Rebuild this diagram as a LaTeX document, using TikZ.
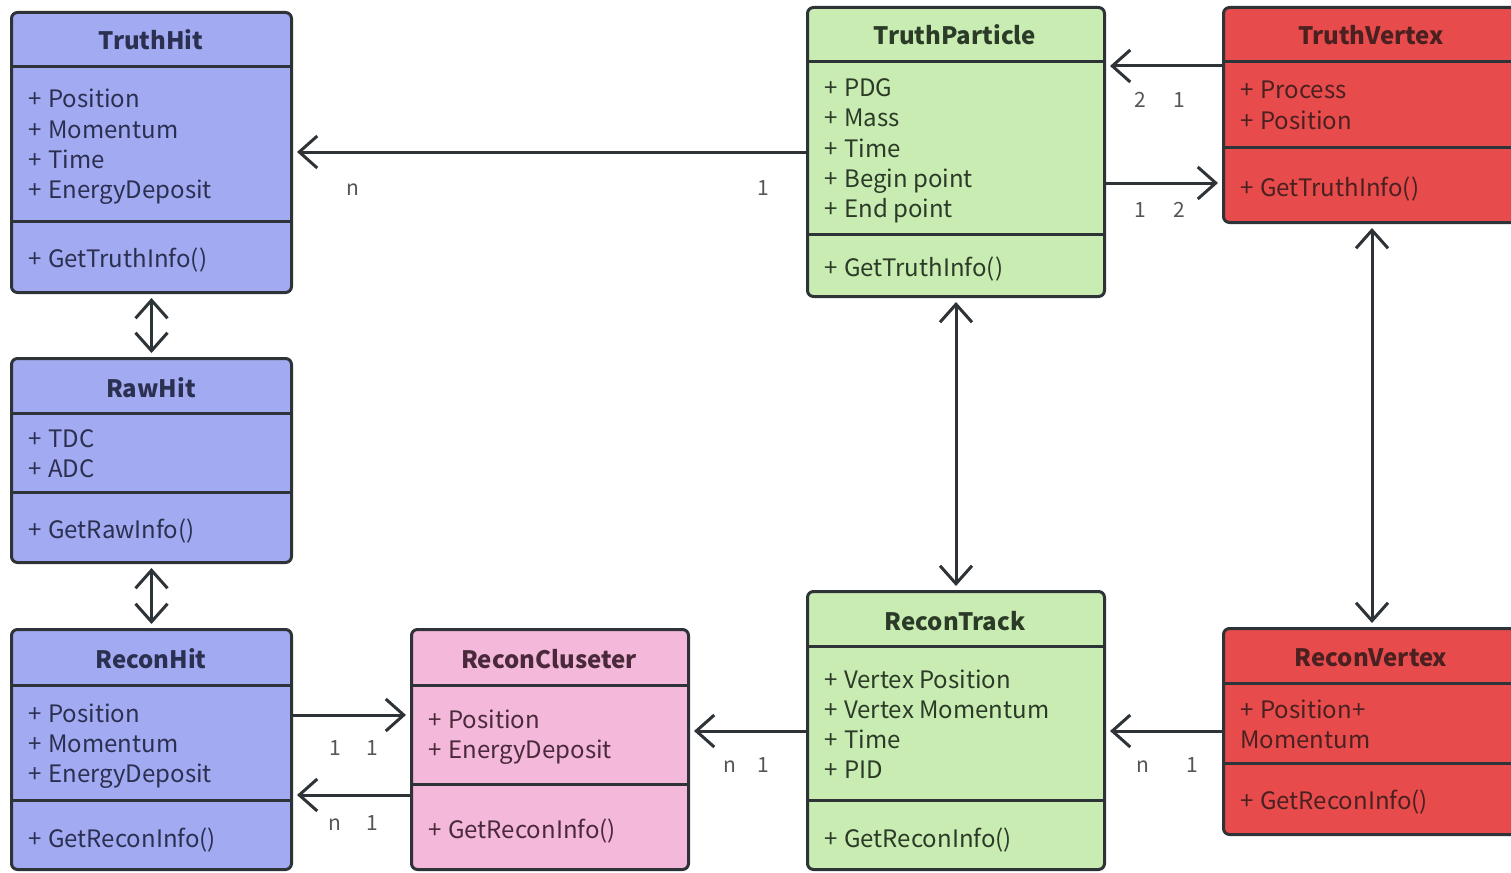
\documentclass[tikz,border=0pt]{standalone}
\usepackage{fontspec}
\setmainfont{Noto Sans CJK SC}
\usetikzlibrary{arrows.meta,calc}
\definecolor{bordc}{HTML}{2E3338}
\definecolor{bluef}{HTML}{A2AAF2}
\definecolor{greenf}{HTML}{C8ECB2}
\definecolor{redf}{HTML}{E84B4B}
\definecolor{pinkf}{HTML}{F4B8DA}
\definecolor{bluet}{HTML}{2C3050}
\definecolor{greent}{HTML}{2C3A28}
\definecolor{redt}{HTML}{4A2020}
\definecolor{pinkt}{HTML}{4A2A3A}
\definecolor{multc}{HTML}{555555}
\newcommand\pl{+\hspace{0.28em}}
\tikzset{
  cls/.style={draw=bordc, line width=3pt, rounded corners=6pt, anchor=north west, inner sep=0pt},
  divl/.style={draw=bordc, line width=3pt},
  ttl/.style={font=\fontsize{24}{28}\selectfont\bfseries, anchor=base, inner sep=0pt},
  att/.style={font=\fontsize{24}{30}\selectfont, anchor=base west, inner sep=0pt},
  mult/.style={font=\fontsize{21}{24}\selectfont, text=multc, anchor=base, inner sep=0pt},
  conn/.style={draw=bordc, line width=3pt, -{Straight Barb[length=18pt,width=32pt]}, shorten >=4pt},
  bconn/.style={draw=bordc, line width=3pt, {Straight Barb[length=18pt,width=32pt]}-{Straight Barb[length=18pt,width=32pt]}, shorten >=4pt, shorten <=4pt},
}
\newcommand\cbox[8]{%
  \node[cls, fill=#6, minimum width=#4pt, minimum height=#5pt] (#1) at (#2,#3) {};
  \draw[divl] (#1.west |- 0,#7) -- (#1.east |- 0,#7);
  \draw[divl] (#1.west |- 0,#8) -- (#1.east |- 0,#8);
}
\newcommand\lns[5]{%
  \foreach \s [count=\i] in {#5} {\node[att, text=#4] (#1-\i) at ({#2},{#3+30*(\i-1)}) {\s};}
}
\begin{document}
\begin{tikzpicture}[x=1pt,y=-1pt]
\useasboundingbox (0,0) rectangle (1511,872);
\fill[white] (0,0) rectangle (1511,872);
\clip (0,0) rectangle (1511,872);

% TruthHit
\cbox{th}{10}{11}{280}{280}{bluef}{67}{221}
\node[ttl, text=bluet] (th-t) at (151,50) {TruthHit};
\lns{tha}{28}{108}{bluet}{\pl Position,\pl Momentum,\pl Time,\pl EnergyDeposit}
\lns{thm}{28}{267}{bluet}{\pl GetTruthInfo()}

% RawHit
\cbox{rh}{10}{357}{280}{204}{bluef}{413}{492}
\node[ttl, text=bluet] (rh-t) at (151,397) {RawHit};
\lns{rha}{28}{447}{bluet}{\pl TDC,\pl ADC}
\lns{rhm}{28}{538}{bluet}{\pl GetRawInfo()}

% ReconHit
\cbox{rch}{10}{628}{280}{240}{bluef}{685}{800}
\node[ttl, text=bluet] (rch-t) at (151,668) {ReconHit};
\lns{rcha}{28}{722}{bluet}{\pl Position,\pl Momentum,\pl EnergyDeposit}
\lns{rchm}{28}{847}{bluet}{\pl GetReconInfo()}

% ReconCluseter
\cbox{rc}{410}{628}{277}{240}{pinkf}{685}{784}
\node[ttl, text=pinkt] (rc-t) at (549,668) {ReconCluseter};
\lns{rca}{428}{728}{pinkt}{\pl Position,\pl EnergyDeposit}
\lns{rcm}{428}{838}{pinkt}{\pl GetReconInfo()}

% ReconTrack
\cbox{rt}{806}{590}{297}{278}{greenf}{646}{800}
\node[ttl, text=greent] (rt-t) at (955,630) {ReconTrack};
\lns{rta}{824}{688}{greent}{\pl Vertex Position,\pl Vertex Momentum,\pl Time,\pl PID}
\lns{rtm}{824}{847}{greent}{\pl GetReconInfo()}

% ReconVertex
\cbox{rv}{1222}{627}{297}{206}{redf}{683}{763}
\node[ttl, text=redt] (rv-t) at (1371,666) {ReconVertex};
\lns{rva}{1240}{718}{redt}{\pl Position+,Momentum}
\lns{rvm}{1240}{809}{redt}{\pl GetReconInfo()}

% TruthParticle
\cbox{tp}{806}{6}{297}{289}{greenf}{62}{234}
\node[ttl, text=greent] (tp-t) at (955,45) {TruthParticle};
\lns{tpa}{824}{97}{greent}{\pl PDG,\pl Mass,\pl Time,\pl Begin point,\pl End point}
\lns{tpm}{824}{276}{greent}{\pl GetTruthInfo()}

% TruthVertex
\cbox{tv}{1222}{6}{297}{215}{redf}{62}{147}
\node[ttl, text=redt] (tv-t) at (1371,45) {TruthVertex};
\lns{tva}{1240}{99}{redt}{\pl Process,\pl Position}
\lns{tvm}{1240}{196}{redt}{\pl GetTruthInfo()}

% connectors
\draw[conn] (tp.west |- 0,152) -- (th.east |- 0,152);
\draw[bconn] (th.south) -- (rh.north);
\draw[bconn] (rh.south) -- (rch.north);
\draw[conn] (rch.east |- 0,715) -- (rc.west |- 0,715);
\draw[conn] (rc.west |- 0,795) -- (rch.east |- 0,795);
\draw[conn] (rt.west |- 0,731) -- (rc.east |- 0,731);
\draw[conn] (rv.west |- 0,731) -- (rt.east |- 0,731);
\draw[conn] (tv.west |- 0,66) -- (tp.east |- 0,66);
\draw[conn] (tp.east |- 0,183) -- (tv.west |- 0,183);
\draw[bconn] (tp.south) -- (rt.north);
\draw[bconn] (tv.south) -- (rv.north);

% multiplicities
\node[mult] (m1) at (353,195) {n};
\node[mult] (m2) at (763,195) {1};
\node[mult] (m3) at (1140,108) {2};
\node[mult] (m4) at (1179,108) {1};
\node[mult] (m5) at (1140,217) {1};
\node[mult] (m6) at (1179,217) {2};
\node[mult] (m7) at (335,755) {1};
\node[mult] (m8) at (372,755) {1};
\node[mult] (m9) at (335,830) {n};
\node[mult] (m10) at (372,830) {1};
\node[mult] (m11) at (730,772) {n};
\node[mult] (m12) at (763,772) {1};
\node[mult] (m13) at (1143,772) {n};
\node[mult] (m14) at (1192,772) {1};
\end{tikzpicture}
\end{document}
